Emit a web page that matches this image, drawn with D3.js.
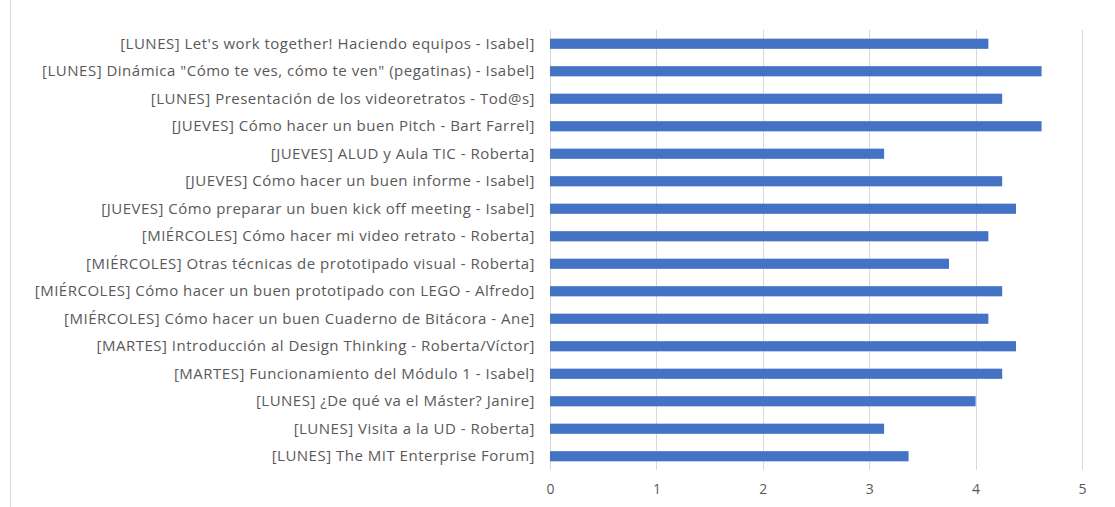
<!DOCTYPE html>
<html>
<head>
<meta charset="utf-8">
<script src="https://cdn.jsdelivr.net/npm/d3@7"></script>
<style>
  body { margin: 0; background: #fff; }
  .tick text { fill: #595959; }
</style>
</head>
<body>
<div id="chart"></div>
<script>
// sessions, top to bottom as shown
var sessions = [
  "[LUNES] Let's work together! Haciendo equipos - Isabel]",
  "[LUNES] Dinámica \"Cómo te ves, cómo te ven\" (pegatinas) - Isabel]",
  "[LUNES] Presentación de los videoretratos - Tod@s]",
  "[JUEVES] Cómo hacer un buen Pitch - Bart Farrel]",
  "[JUEVES] ALUD y Aula TIC - Roberta]",
  "[JUEVES] Cómo hacer un buen informe - Isabel]",
  "[JUEVES] Cómo preparar un buen kick off meeting - Isabel]",
  "[MIÉRCOLES] Cómo hacer mi video retrato - Roberta]",
  "[MIÉRCOLES] Otras técnicas de prototipado visual - Roberta]",
  "[MIÉRCOLES] Cómo hacer un buen prototipado con LEGO - Alfredo]",
  "[MIÉRCOLES] Cómo hacer un buen Cuaderno de Bitácora - Ane]",
  "[MARTES] Introducción al Design Thinking - Roberta/Víctor]",
  "[MARTES] Funcionamiento del Módulo 1 - Isabel]",
  "[LUNES] ¿De qué va el Máster? Janire]",
  "[LUNES] Visita a la UD - Roberta]",
  "[LUNES] The MIT Enterprise Forum]"
];
var scores = [4.12, 4.62, 4.25, 4.62, 3.14, 4.25, 4.38, 4.12, 3.75, 4.25, 4.12, 4.38, 4.25, 4.0, 3.14, 3.37];
var xTicks = [0, 1, 2, 3, 4, 5];

var margin = {top: 30, right: 33, bottom: 37, left: 550},
    width = 1115 - margin.left - margin.right,
    height = 507 - margin.top - margin.bottom;

var svg = d3.select("#chart").append("svg")
    .attr("width", 1115)
    .attr("height", 507)
    .style("font-family", "'Open Sans', sans-serif");

// chart frame edge on the left
svg.append("line")
    .attr("x1", 10.5).attr("x2", 10.5)
    .attr("y1", 0).attr("y2", 507)
    .attr("stroke", "#d9d9d9");

var g = svg.append("g")
    .attr("transform", "translate(" + margin.left + "," + margin.top + ")");

var x = d3.scaleLinear().domain([0, 5]).range([0, width]);
var y = d3.scaleBand().domain(sessions).range([0, height]).paddingInner(0.63).paddingOuter(0.315);

// gridlines
g.append("g")
    .selectAll("line")
    .data(xTicks)
    .join("line")
    .attr("x1", function(d) { return Math.round(x(d)) + 0.5; })
    .attr("x2", function(d) { return Math.round(x(d)) + 0.5; })
    .attr("y1", 0)
    .attr("y2", height)
    .attr("stroke", "#d9d9d9");

// x axis
g.append("g")
    .attr("transform", "translate(0," + height + ")")
    .call(d3.axisBottom(x).tickValues(xTicks).tickFormat(d3.format("d")).tickSize(0).tickPadding(14))
    .call(function(a) { a.select(".domain").remove(); })
    .selectAll("text")
    .style("font-size", "14px")
    .style("font-family", "'Open Sans', sans-serif");

// y axis labels
g.append("g")
    .call(d3.axisLeft(y).tickSize(0).tickPadding(15))
    .call(function(a) { a.select(".domain").remove(); })
    .selectAll("text")
    .style("font-size", "15px")
    .style("letter-spacing", "0.5px")
    .style("font-family", "'Open Sans', sans-serif");

// bars
g.selectAll(".bar")
    .data(scores)
    .join("rect")
    .attr("class", "bar")
    .attr("x", x(0))
    .attr("y", function(d, i) { return y(sessions[i]); })
    .attr("width", function(d) { return x(d) - x(0); })
    .attr("height", y.bandwidth())
    .attr("fill", "#4472c4");
</script>
</body>
</html>
